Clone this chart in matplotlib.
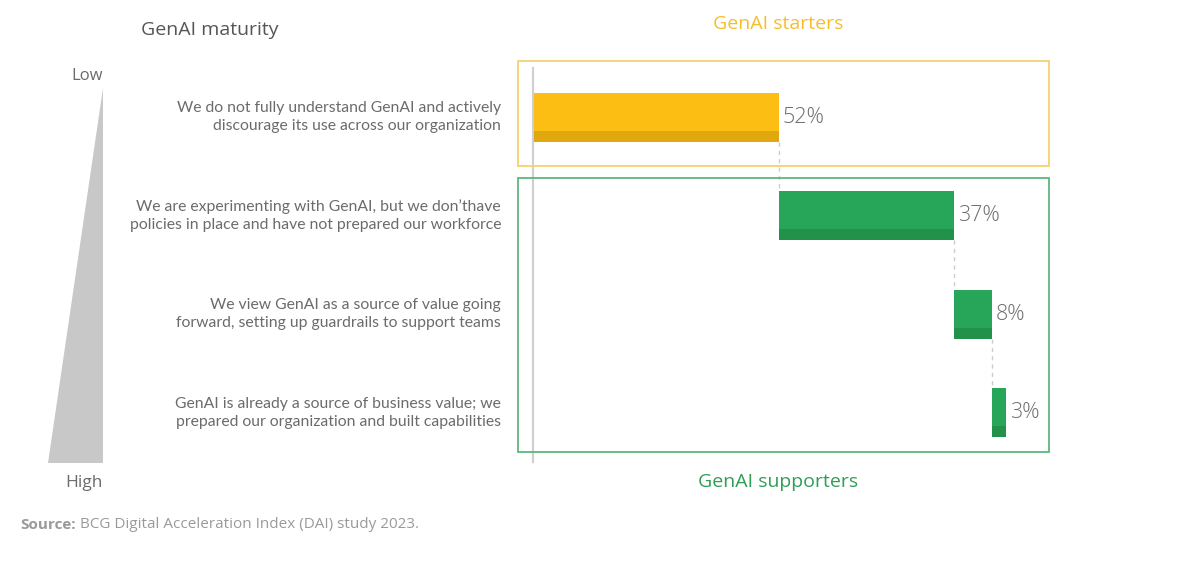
import matplotlib
matplotlib.use("Agg")
import matplotlib.pyplot as plt
from matplotlib.patches import Rectangle, Polygon
import numpy as np

plt.rcParams['font.family'] = ['Open Sans', 'DejaVu Sans']

categories = [
    "We do not fully understand GenAI and actively\ndiscourage its use across our organization",
    "We are experimenting with GenAI, but we don\u2019thave\npolicies in place and have not prepared our workforce",
    "We view GenAI as a source of value going\nforward, setting up guardrails to support teams",
    "GenAI is already a source of business value; we\nprepared our organization and built capabilities",
]
values = [52, 37, 8, 3]
value_labels = ["52%", "37%", "8%", "3%"]
groups = ["starters", "supporters", "supporters", "supporters"]

W, H = 1200, 561
fig = plt.figure(figsize=(W / 100, H / 100), dpi=100)

def fx(px):
    return px / W

def fy(py):
    return 1 - py / H

YELLOW = "#FDBE14"
YELLOW_D = "#E0A80E"
GREEN = "#27A558"
GREEN_D = "#22914A"
TXT = "#6b6b6b"

ax = fig.add_axes([fx(533), fy(462), fx(1006) - fx(533), (462 - 68) / H])
ax.set_xlim(0, 100)
ax.set_ylim(3.5, -0.5)
for s in ["top", "right", "bottom"]:
    ax.spines[s].set_visible(False)
ax.spines["left"].set_color("#cfcfcf")
ax.spines["left"].set_linewidth(1.5)
ax.set_xticks([])
ax.set_yticks([])
ax.patch.set_alpha(0)

starts = np.concatenate([[0], np.cumsum(values)[:-1]])
ys = np.arange(len(values))
bh = 0.5
strip = 0.112
for i, (st, v, g) in enumerate(zip(starts, values, groups)):
    c = YELLOW if g == "starters" else GREEN
    cd = YELLOW_D if g == "starters" else GREEN_D
    ax.barh(ys[i], v, left=st, height=bh, color=c, edgecolor="none")
    ax.barh(ys[i] + bh / 2 - strip / 2, v, left=st, height=strip, color=cd, edgecolor="none")
    ax.text(st + v + 0.8, ys[i], value_labels[i], va="center", ha="left",
            fontsize=15.5, color="#6e6e6e", fontweight="light")
    if i < len(values) - 1:
        ax.plot([st + v, st + v], [ys[i] + bh / 2, ys[i] + 1 - bh / 2],
                color="#cccccc", lw=1, ls=(0, (3, 3)))

fig.patches.append(Rectangle((fx(518), fy(166)), fx(1049) - fx(518), (166 - 61) / H,
                             transform=fig.transFigure, fill=False,
                             edgecolor="#F3D275", lw=1.3))
fig.patches.append(Rectangle((fx(518), fy(452)), fx(1049) - fx(518), (452 - 178) / H,
                             transform=fig.transFigure, fill=False,
                             edgecolor="#5DB77C", lw=1.3))

for i, cat in enumerate(categories):
    yc = ax.transData.transform((0, ys[i]))[1] / fig.bbox.height
    fig.text(fx(501), yc, cat, ha="right", va="center", multialignment="right",
             fontsize=11.3, color=TXT, linespacing=1.4,
             family=["Lato", "DejaVu Sans"])

fig.patches.append(Polygon([(fx(103), fy(88)), (fx(48), fy(463)), (fx(103), fy(463))],
                           closed=True, transform=fig.transFigure,
                           facecolor="#C8C8C8", edgecolor="none"))
fig.text(fx(103), fy(76), "Low", ha="right", va="center", fontsize=12, color=TXT)
fig.text(fx(103), fy(483), "High", ha="right", va="center", fontsize=12.5, color=TXT)

fig.text(fx(141), fy(30), "GenAI maturity", ha="left", va="center", fontsize=14,
         color="#555555", fontweight="medium")
fig.text(fx(778), fy(24), "GenAI starters", ha="center", va="center", fontsize=14,
         color="#F6BE2A", fontweight="medium")
fig.text(fx(778), fy(482), "GenAI supporters", ha="center", va="center", fontsize=14,
         color="#2E9E55", fontweight="medium")

src = fig.text(fx(20), fy(525), "Source:", ha="left", va="center", fontsize=11,
               color="#9a9a9a", fontweight="bold")
fig.canvas.draw()
bb = src.get_window_extent()
fig.text(bb.x1 / W + 4 / W, fy(525), "BCG Digital Acceleration Index (DAI) study 2023.",
         ha="left", va="center", fontsize=11, color="#9a9a9a")

fig.savefig("out.png", dpi=100, facecolor="white")
